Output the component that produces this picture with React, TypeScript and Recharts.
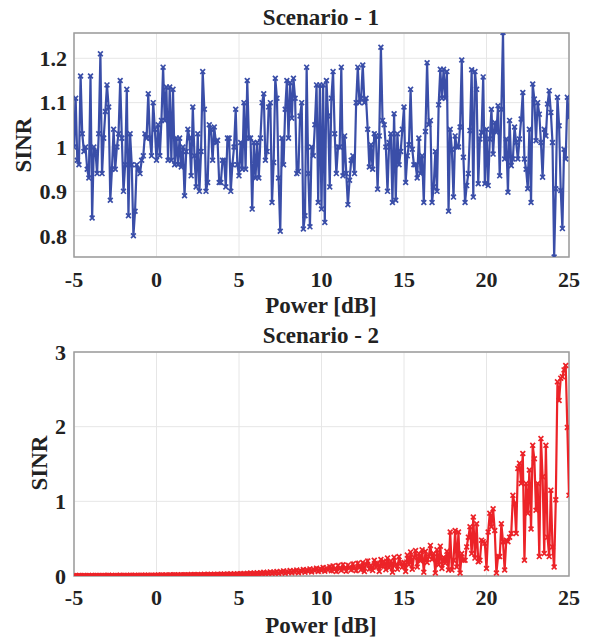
import { LineChart, Line, XAxis, YAxis, CartesianGrid, ReferenceArea } from "recharts";

// power grid: -5 dB to 25 dB in 0.1 dB steps
const powerStart = -5;
const powerStep = 0.1;

const scenario1Sinr = [
  1.00, 1.11, 0.97, 0.96, 1.16, 1.03, 0.99, 1.00, 0.95, 0.93,
  1.16, 0.84, 1.00, 0.99, 0.94, 1.03, 1.21, 0.94, 1.02, 1.08,
  1.14, 1.09, 0.88, 0.95, 1.04, 0.95, 1.00, 1.03, 1.15, 1.02,
  0.90, 0.96, 1.13, 0.845, 1.03, 0.96, 0.80, 0.855, 0.96, 0.95,
  0.94, 0.97, 0.98, 1.03, 1.02, 1.12, 1.02, 0.98, 1.10, 1.04,
  0.97, 1.05, 0.98, 1.06, 1.18, 1.06, 1.135, 0.97, 1.135, 0.97,
  1.13, 0.96, 1.02, 0.96, 1.02, 0.955, 1.00, 0.89, 0.99, 1.04,
  1.02, 0.935, 1.09, 0.98, 0.91, 1.03,
  0.90, 0.99, 1.17, 1.085, 0.90, 0.92, 1.05, 1.04, 0.97, 1.045,
  1.01, 1.015, 0.92, 0.92, 0.97, 0.97, 0.91, 1.02, 1.02, 0.90,
  0.96, 1.00, 1.085, 0.96, 0.935, 1.01, 0.95, 1.10, 0.95, 1.15,
  1.02, 1.02, 0.86, 1.01, 0.93, 1.01, 0.93, 1.02, 1.10, 1.12,
  0.97, 0.99, 1.09, 1.10, 0.875, 0.965, 1.155, 1.11, 0.93, 0.81,
  1.02, 0.96, 1.085, 1.15, 1.02, 1.145, 1.065, 1.155, 1.11, 0.94,
  0.945, 1.07, 1.10, 0.815, 0.845, 1.18, 0.94, 0.82, 1.00, 0.98,
  1.05, 1.14, 0.875, 1.14,
  0.86, 1.14, 0.83, 1.15, 1.07, 0.91, 1.11, 1.17, 1.03, 0.94,
  1.00, 1.00, 1.18, 0.935, 1.025, 0.94, 0.87, 0.925, 0.97, 0.98,
  0.94, 1.10, 1.18, 1.10, 1.11, 1.185, 1.10, 1.11, 1.04, 0.955,
  1.005, 0.95, 1.03, 1.025, 0.905, 1.025, 1.225, 1.06, 1.05, 1.00,
  0.90, 1.01, 1.03, 0.875, 1.075, 0.88, 1.03, 0.96, 0.99, 1.04,
  1.09, 0.92, 0.98, 1.005, 1.13, 0.995, 0.96, 0.96, 0.93, 1.02,
  0.94, 0.98, 0.875, 1.035, 1.19, 1.05, 1.06, 0.875, 0.91, 0.99,
  0.90, 1.095, 1.175, 1.11, 1.175,
  1.11, 1.17, 0.855, 1.04, 0.995, 0.887, 1.025, 1.0, 1.0, 1.045,
  1.196, 0.977, 0.875, 0.913, 0.94, 1.037, 1.174, 0.887, 1.17, 1.13,
  0.917, 1.018, 1.033, 1.158, 0.917, 1.04, 0.913, 1.018, 1.085, 0.984,
  1.055, 1.033, 1.093, 0.935, 1.085, 1.258, 0.973, 1.018, 0.898, 1.06,
  0.958, 0.973, 1.045, 1.01, 0.973, 1.018, 1.063, 1.123, 0.973, 0.95,
  0.906, 1.04, 0.875, 1.142, 1.108, 1.014, 1.10, 1.074, 1.01, 0.932,
  1.04, 1.025, 1.097, 1.127, 1.078, 1.01, 0.752, 0.906, 1.112, 1.048,
  0.902, 0.816, 0.995, 0.973, 1.112, 1.067,
];

const scenario2Sinr = [
  0.004, 0.006, 0.003, 0.007, 0.005, 0.004, 0.008, 0.005, 0.003, 0.006,
  0.005, 0.007, 0.004, 0.006, 0.008, 0.005, 0.004, 0.007, 0.006, 0.005,
  0.006, 0.009, 0.005, 0.007, 0.004, 0.008, 0.006, 0.005, 0.009, 0.006,
  0.007, 0.005, 0.008, 0.006, 0.010, 0.007, 0.005, 0.009, 0.006, 0.008,
  0.007, 0.010, 0.006, 0.009, 0.008, 0.011, 0.007, 0.009, 0.006, 0.010,
  0.008, 0.012, 0.009, 0.014, 0.010, 0.008, 0.013, 0.011, 0.015, 0.009,
  0.012, 0.016, 0.010, 0.014, 0.011, 0.018, 0.012, 0.015, 0.010, 0.017,
  0.013, 0.019, 0.012, 0.016, 0.014, 0.020, 0.013, 0.018, 0.015, 0.022,
  0.014, 0.019, 0.016, 0.024, 0.015, 0.021, 0.018, 0.025, 0.016, 0.022,
  0.019, 0.027, 0.017, 0.024, 0.020, 0.029, 0.018, 0.026, 0.021, 0.030,
  0.020, 0.031, 0.024, 0.035, 0.022, 0.033, 0.028, 0.040, 0.025, 0.036,
  0.030, 0.044, 0.027, 0.041, 0.033, 0.050, 0.030, 0.046, 0.036, 0.055,
  0.032, 0.050, 0.040, 0.060, 0.035, 0.058, 0.044, 0.068, 0.038, 0.062,
  0.048, 0.072, 0.042, 0.066, 0.052, 0.080, 0.045, 0.074, 0.058, 0.088,
  0.050, 0.082, 0.064, 0.095, 0.055, 0.090, 0.070, 0.105, 0.060, 0.098,
  0.075, 0.115, 0.065, 0.105, 0.082, 0.125, 0.070, 0.135, 0.090, 0.060,
  0.140, 0.095, 0.075, 0.150, 0.100, 0.065, 0.145, 0.110, 0.080, 0.160,
  0.105, 0.070, 0.170, 0.120, 0.085, 0.180, 0.060, 0.150, 0.200, 0.095,
  0.140, 0.075, 0.210, 0.120, 0.170, 0.060, 0.220, 0.130, 0.190, 0.085,
  0.240, 0.110, 0.200, 0.050, 0.250, 0.150, 0.090, 0.260, 0.170, 0.120,
  0.180, 0.060, 0.280, 0.150, 0.320, 0.090, 0.250, 0.340, 0.120, 0.300,
  0.200, 0.350, 0.050, 0.330, 0.180, 0.260, 0.410, 0.220, 0.300, 0.040,
  0.350, 0.150, 0.400, 0.100, 0.250,
  0.17, 0.33, 0.08, 0.59, 0.08, 0.21, 0.61, 0.12, 0.59, 0.04,
  0.30, 0.21, 0.21, 0.39, 0.52, 0.66, 0.30, 0.79, 0.24, 0.70,
  0.19, 0.21, 0.48, 0.46, 0.44, 0.10, 0.59, 0.84, 0.66, 0.90,
  0.61, 0.04, 0.26, 0.26, 0.70, 0.46, 0.08, 0.48, 0.46, 0.52,
  0.57, 1.08, 0.97, 0.57, 1.44, 1.51, 1.24, 1.64, 0.21, 1.24,
  0.84, 1.42, 0.63, 1.75, 1.57, 0.88, 1.24, 0.26, 1.84, 1.33,
  0.30, 1.75, 0.52, 0.26, 1.15, 0.39, 0.12, 1.02, 2.60, 2.35,
  2.65, 2.67, 2.76, 2.82, 1.99, 1.08,
];

const powerTicks = [-5, 0, 5, 10, 15, 20, 25];
const sinrTicks1 = [0.8, 0.9, 1, 1.1, 1.2];
const sinrTicks2 = [0, 1, 2, 3];

const FONT = "Liberation Serif, Times New Roman, serif";
const TEXT = "#222222";

const toRows = (vals: number[]) =>
  vals.map((v, i) => ({
    power: Math.round((powerStart + i * powerStep) * 10) / 10,
    sinr: v,
  }));

const crossDot = (color: string) => (props: any) => {
  const { cx, cy, index } = props;
  if (cx == null || cy == null) return <g key={index} />;
  const s = 2.4;
  return (
    <path
      key={index}
      d={`M${cx - s},${cy - s}L${cx + s},${cy + s}M${cx - s},${cy + s}L${cx + s},${cy - s}`}
      stroke={color}
      strokeWidth={1.7}
      fill="none"
    />
  );
};

type PanelProps = {
  values: number[];
  color: string;
  domain: [number, number];
  yTicks: number[];
  top: number;
  height: number;
  marginTop: number;
  xAxisHeight: number;
  xTickMargin: number;
  yTickMargin: number;
};

const tickStyle = {
  fontSize: 22,
  fontWeight: "bold",
  fill: TEXT,
  style: { fontFamily: FONT },
};

const Panel = ({ values, color, domain, yTicks, top, height, marginTop, xAxisHeight, xTickMargin, yTickMargin }: PanelProps) => (
  <div style={{ position: "absolute", left: 0, top }}>
    <LineChart
      width={592}
      height={height}
      data={toRows(values)}
      margin={{ top: marginTop, right: 23, bottom: 0, left: 0 }}
    >
      <CartesianGrid stroke="#e6e6e6" strokeWidth={1} />
      <XAxis
        dataKey="power"
        type="number"
        domain={[-5, 25]}
        ticks={powerTicks}
        height={xAxisHeight}
        axisLine={false}
        tickLine={false}
        tickSize={0}
        tickMargin={xTickMargin}
        tick={tickStyle}
        allowDataOverflow
      />
      <YAxis
        type="number"
        domain={domain}
        ticks={yTicks}
        width={74}
        axisLine={false}
        tickLine={false}
        tickSize={0}
        tickMargin={yTickMargin}
        tick={tickStyle}
        allowDataOverflow
      />
      <ReferenceArea
        x1={-5}
        x2={25}
        y1={domain[0]}
        y2={domain[1]}
        fill="none"
        stroke="#9c9c9c"
        strokeWidth={1.5}
        ifOverflow="visible"
      />
      <Line
        type="linear"
        dataKey="sinr"
        stroke={color}
        strokeWidth={2.2}
        dot={crossDot(color)}
        activeDot={false}
        isAnimationActive={false}
      />
    </LineChart>
  </div>
);

const labelStyle = {
  fontSize: 23,
  fontWeight: "bold",
  fill: TEXT,
  style: { fontFamily: FONT },
} as const;

export default function App() {
  return (
    <div style={{ position: "absolute", left: 0, top: 0, width: 592, height: 639, background: "#fff", fontFamily: FONT }}>
      <Panel
        values={scenario1Sinr}
        color="#3a4ea8"
        domain={[0.752, 1.257]}
        yTicks={sinrTicks1}
        top={0}
        height={300}
        marginTop={33}
        xAxisHeight={43}
        xTickMargin={14}
        yTickMargin={7}
      />
      <Panel
        values={scenario2Sinr}
        color="#ec2328"
        domain={[0, 3]}
        yTicks={sinrTicks2}
        top={300}
        height={339}
        marginTop={52}
        xAxisHeight={63}
        xTickMargin={13}
        yTickMargin={8}
      />
      <svg
        width={592}
        height={639}
        style={{ position: "absolute", left: 0, top: 0, pointerEvents: "none" }}
      >
        <text x={321} y={25} textAnchor="middle" {...labelStyle}>Scenario - 1</text>
        <text x={321} y={313} textAnchor="middle" {...labelStyle}>Power [dB]</text>
        <text x={321} y={343} textAnchor="middle" {...labelStyle}>Scenario - 2</text>
        <text x={321} y={633} textAnchor="middle" {...labelStyle}>Power [dB]</text>
        <text transform="translate(31,145) rotate(-90)" textAnchor="middle" {...labelStyle}>SINR</text>
        <text transform="translate(47,463) rotate(-90)" textAnchor="middle" {...labelStyle}>SINR</text>
      </svg>
    </div>
  );
}
